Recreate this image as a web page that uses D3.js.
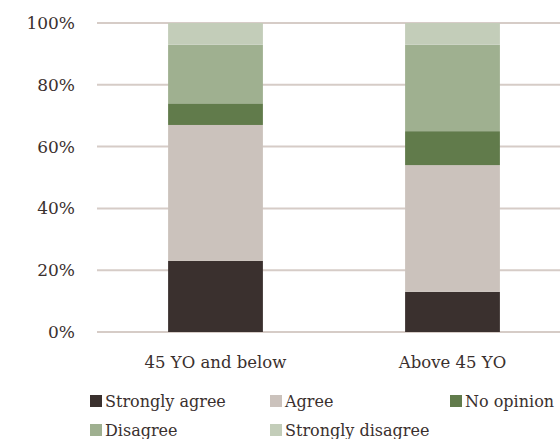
<!DOCTYPE html>
<html>
<head>
<meta charset="utf-8">
<script src="https://cdn.jsdelivr.net/npm/d3@7"></script>
<style>
  html, body { margin: 0; padding: 0; background: #fff; }
  svg { display: block; }
  svg text { font-family: "DejaVu Serif", serif !important; }
</style>
</head>
<body>
<svg id="chart" width="560" height="439"></svg>
<script>
// Survey response shares (%) by age group
const categories = ["45 YO and below", "Above 45 YO"];
const seriesNames = ["Strongly agree", "Agree", "No opinion", "Disagree", "Strongly disagree"];
const stronglyAgree = [23, 13];
const agree = [44, 41];
const noOpinion = [7, 11];
const disagree = [19, 28];
const stronglyDisagree = [7, 7];
const yTicks = [0, 20, 40, 60, 80, 100];
const colors = ["#3a302e", "#cbc2bc", "#617b4b", "#9fb090", "#c3cdb9"];

const seriesValues = [stronglyAgree, agree, noOpinion, disagree, stronglyDisagree];
const rows = categories.map((c, i) => {
  const r = { category: c };
  seriesNames.forEach((s, k) => { r[s] = seriesValues[k][i]; });
  return r;
});

const svg = d3.select("#chart");
const margin = { left: 97, right: -11, top: 23, bottom: 107 };
const W = 560, H = 439;
const textColor = "#3a302e";

const x = d3.scaleBand().domain(categories)
  .range([margin.left, W - margin.right]).paddingInner(0.6).paddingOuter(0.3);
const y = d3.scaleLinear().domain([0, 100]).range([H - margin.bottom, margin.top]);

// Horizontal gridlines
svg.append("g").selectAll("line").data(yTicks).join("line")
  .attr("x1", margin.left).attr("x2", W)
  .attr("y1", d => y(d)).attr("y2", d => y(d))
  .attr("stroke", "#d6ccc7").attr("stroke-width", 2);

// Y axis labels
const yAxis = d3.axisLeft(y).tickValues(yTicks).tickFormat(d => d + "%").tickSize(0).tickPadding(0);
const ya = svg.append("g").attr("transform", "translate(75,0)").call(yAxis);
ya.select(".domain").remove();
ya.selectAll("text").attr("font-size", 17).attr("fill", textColor);

// Stacked bars
const stack = d3.stack().keys(seriesNames);
const layers = stack(rows);
svg.append("g").selectAll("g").data(layers).join("g")
  .attr("fill", (d, i) => colors[i])
  .selectAll("rect").data(d => d).join("rect")
  .attr("x", d => x(d.data.category))
  .attr("width", x.bandwidth())
  .attr("y", d => y(d[1]))
  .attr("height", d => y(d[0]) - y(d[1]));

// Category labels
const xAxis = d3.axisBottom(x).tickSize(0).tickPadding(0);
const xa = svg.append("g").attr("transform", `translate(0,${y(0) + 24})`).call(xAxis);
xa.select(".domain").remove();
xa.selectAll("text").attr("font-size", 16.5).attr("fill", textColor);

// Legend
const legendPos = [[90, 401], [270, 401], [450, 401], [90, 430], [270, 430]];
const lg = svg.append("g").selectAll("g").data(seriesNames).join("g")
  .attr("transform", (d, i) => `translate(${legendPos[i][0]},${legendPos[i][1]})`);
lg.append("rect").attr("x", 0).attr("y", -6).attr("width", 12).attr("height", 12)
  .attr("fill", (d, i) => colors[i]);
lg.append("text").attr("x", 15).attr("y", 6).text(d => d)
  .attr("font-size", 16).attr("fill", textColor);
</script>
</body>
</html>
